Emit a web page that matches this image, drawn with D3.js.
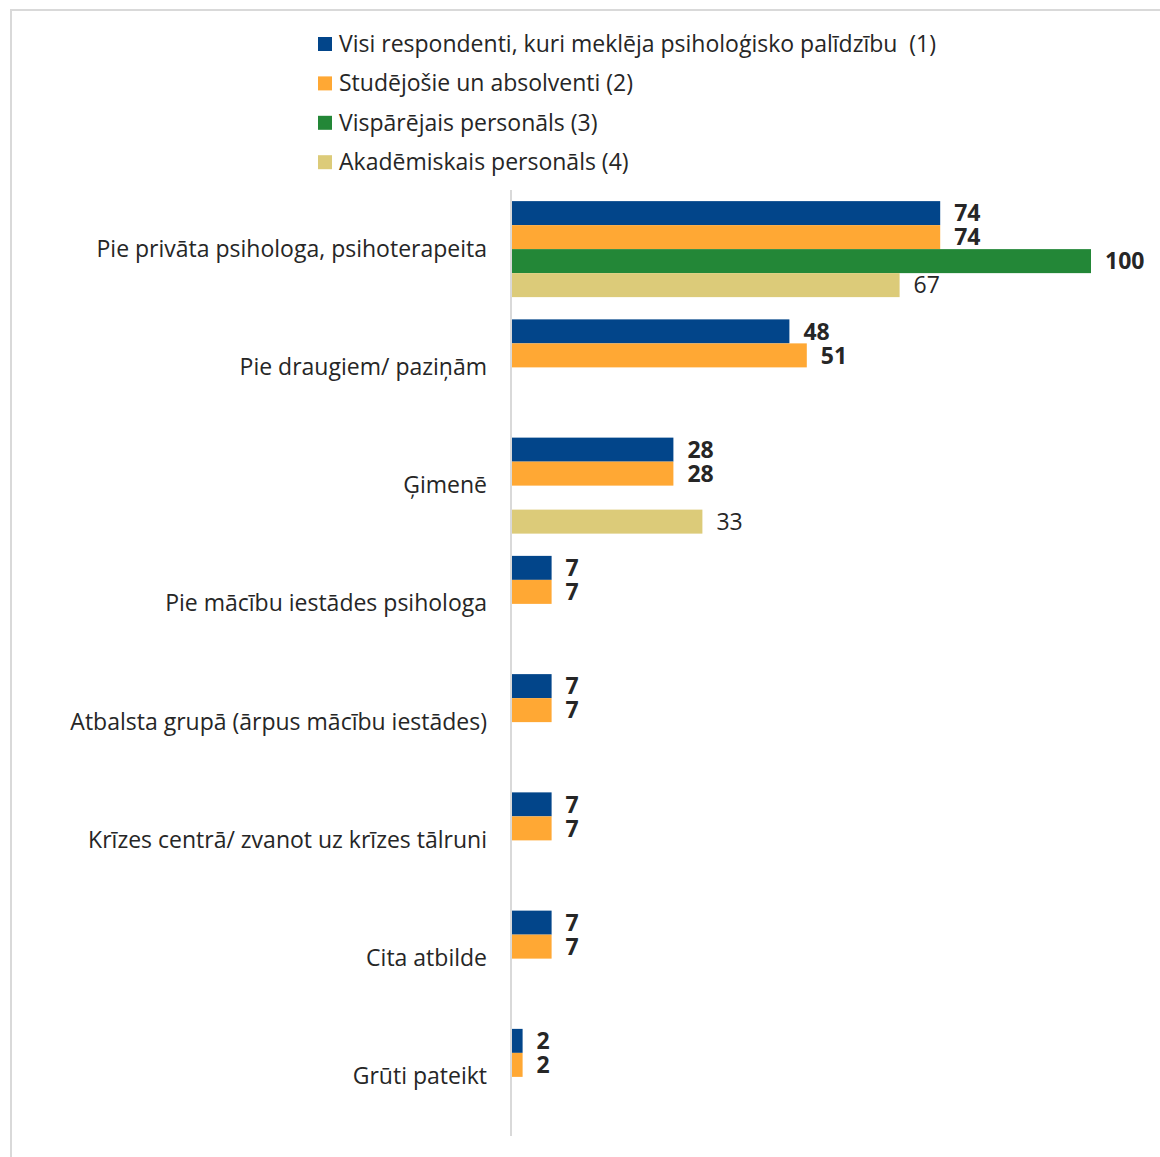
<!DOCTYPE html>
<html>
<head>
<meta charset="utf-8">
<script src="https://cdn.jsdelivr.net/npm/d3@7"></script>
<style>
  body { margin: 0; background: #fff; }
  svg text { font-family: "Open Sans", sans-serif; fill: #262626; }
</style>
</head>
<body>
<svg id="chart" width="1160" height="1157"></svg>
<script>
// categories, top to bottom
const categories = [
  "Pie privāta psihologa, psihoterapeita",
  "Pie draugiem/ paziņām",
  "Ģimenē",
  "Pie mācību iestādes psihologa",
  "Atbalsta grupā (ārpus mācību iestādes)",
  "Krīzes centrā/ zvanot uz krīzes tālruni",
  "Cita atbilde",
  "Grūti pateikt"
]

const seriesNames = [
  "Visi respondenti, kuri meklēja psiholoģisko palīdzību  (1)",
  "Studējošie un absolventi (2)",
  "Vispārējais personāls (3)",
  "Akadēmiskais personāls (4)"
]

const seriesColors = ["#02458a", "#ffa834", "#238737", "#dccb79"]

// null = no answer in that group
const allRespondents = [74, 48, 28, 7, 7, 7, 7, 2]
const students       = [74, 51, 28, 7, 7, 7, 7, 2]
const generalStaff   = [100, null, null, null, null, null, null, null]
const academicStaff  = [67, null, 33, null, null, null, null, null]

const seriesValues = [allRespondents, students, generalStaff, academicStaff]

const fontSize = "23px"

const svg = d3.select("#chart")

// frame
svg.append("rect")
  .attr("x", 11).attr("y", 10)
  .attr("width", 1160).attr("height", 1160)
  .attr("fill", "none")
  .attr("stroke", "#d9d9d9")
  .attr("stroke-width", 2)

/*
  legend
*/
const legend = svg.append("g").attr("transform", "translate(318,44)")
const legendItems = legend.selectAll("g")
  .data(seriesNames)
  .join("g")
  .attr("transform", (d, i) => `translate(0,${i * 39.4})`)

legendItems.append("rect")
  .attr("x", 0).attr("y", -7)
  .attr("width", 14).attr("height", 14)
  .attr("fill", (d, i) => seriesColors[i])

legendItems.append("text")
  .attr("x", 21).attr("y", 0)
  .attr("dy", "0.35em")
  .style("font-size", fontSize)
  .style("white-space", "pre")
  .text(d => d)

/*
  scales
*/
const x = d3.scaleLinear().domain([0, 100]).range([511, 1091])

const pad = 1 - 96 / 118.25
const y = d3.scaleBand()
  .domain(categories)
  .range([190, 1136])
  .paddingInner(pad)
  .paddingOuter(pad / 2)

const ySub = d3.scaleBand()
  .domain(d3.range(seriesNames.length))
  .range([0, y.bandwidth()])

// category axis
const yAxis = svg.append("g")
  .attr("transform", `translate(${x(0)},0)`)
  .call(d3.axisLeft(y).tickSize(0).tickSizeOuter(0).tickPadding(24))

yAxis.select(".domain").remove()
yAxis.selectAll("text")
  .style("font-size", fontSize)
  .style("font-family", "'Open Sans', sans-serif")
  .attr("fill", "#262626")

/*
  bars
*/
const rows = []
seriesValues.forEach((vals, s) => {
  vals.forEach((v, c) => {
    if (v !== null) rows.push({ cat: categories[c], s: s, v: v })
  })
})

const bars = svg.append("g")
bars.selectAll("rect")
  .data(rows)
  .join("rect")
  .attr("x", x(0))
  .attr("y", d => y(d.cat) + ySub(d.s))
  .attr("width", d => x(d.v) - x(0))
  .attr("height", ySub.bandwidth())
  .attr("fill", d => seriesColors[d.s])

bars.selectAll("text")
  .data(rows)
  .join("text")
  .attr("x", d => x(d.v) + 14)
  .attr("y", d => y(d.cat) + ySub(d.s) + ySub.bandwidth() / 2)
  .attr("dy", "0.36em")
  .style("font-size", fontSize)
  .style("font-weight", d => d.s === 3 ? "normal" : "bold")
  .text(d => d.v)

// axis line on top of bars
svg.append("line")
  .attr("x1", x(0)).attr("x2", x(0))
  .attr("y1", 190).attr("y2", 1136)
  .attr("stroke", "#d9d9d9")
  .attr("stroke-width", 2)
</script>
</body>
</html>
